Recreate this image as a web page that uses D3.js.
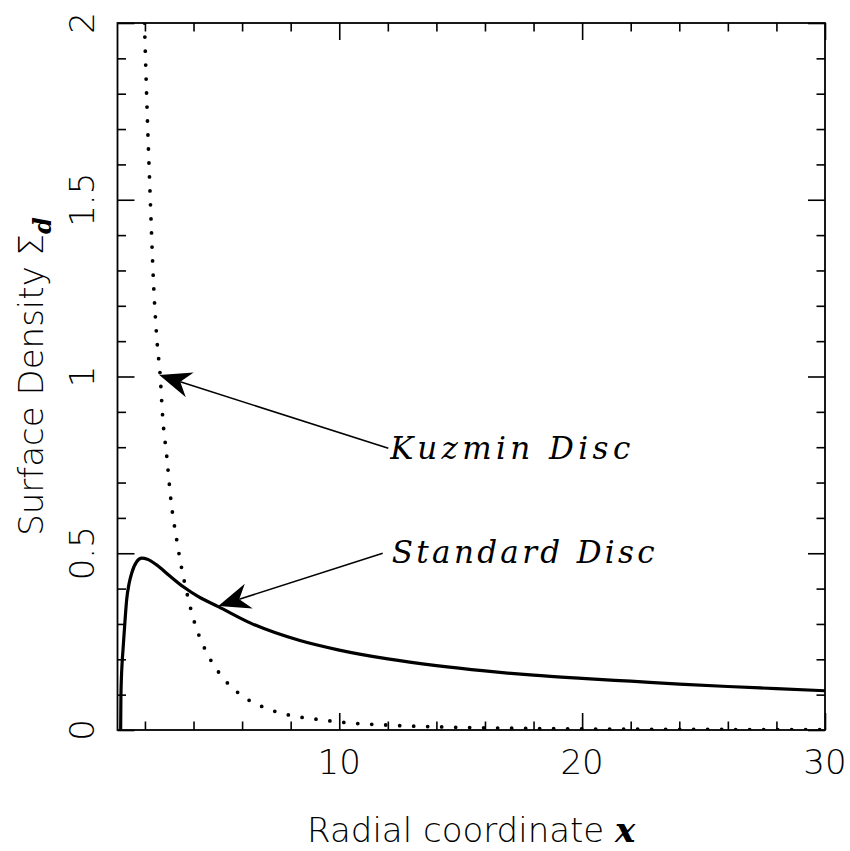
<!DOCTYPE html>
<html>
<head>
<meta charset="utf-8">
<script src="https://cdn.jsdelivr.net/npm/d3@7"></script>
<style>
  body { margin: 0; background: #fff; }
  .lbl { font-family: "DejaVu Sans", sans-serif; font-weight: 200; font-size: 34px; fill: #000; }
  .note { font-family: "DejaVu Serif", serif; font-style: italic; font-size: 31px; fill: #000; }
  .it { font-family: "DejaVu Serif", serif; font-style: italic; font-weight: bold; }
</style>
</head>
<body>
<script>
// axes
const xDomain = [0.87, 30];
const yDomain = [0, 2];
const xMajorTicks = [10, 20, 30];
const xMinorTicks = [2, 4, 6, 8, 12, 14, 16, 18, 22, 24, 26, 28];
const yMajorTicks = [0, 0.5, 1, 1.5, 2];
const yMinorTicks = [0.1, 0.2, 0.3, 0.4, 0.6, 0.7, 0.8, 0.9, 1.1, 1.2, 1.3, 1.4, 1.6, 1.7, 1.8, 1.9];
const xTickLabels = ["10", "20", "30"];
const yTickLabels = ["0", "0.5", "1", "1.5", "2"];

// standard disc (solid)
const standardX = [1.0, 1.01, 1.03, 1.06, 1.1, 1.17, 1.25, 1.35, 1.46, 1.66, 1.87, 2.1, 2.48, 3.0, 3.58, 4.2, 5.02, 6.33, 8.38, 10, 12, 14, 16, 18, 20, 22, 24, 26, 28, 30];
const standardY = [0, 0.09, 0.145, 0.19, 0.23, 0.30, 0.37, 0.415, 0.445, 0.476, 0.486, 0.483, 0.467, 0.437, 0.405, 0.377, 0.349, 0.303, 0.253, 0.226, 0.201, 0.182, 0.167, 0.155, 0.146, 0.138, 0.130, 0.123, 0.117, 0.111];

// kuzmin disc (dotted)
const kuzminX = [1.98, 2.1, 2.21, 2.35, 2.51, 2.62, 2.73, 2.9, 3.07, 3.31, 3.51, 3.72, 4.06, 4.47, 5.05, 5.84, 6.83, 7.94, 9.0, 10.24, 11.95, 14, 17, 20, 25, 30];
const kuzminY = [2.0, 1.73, 1.52, 1.27, 1.089, 1.01, 0.886, 0.773, 0.65, 0.537, 0.458, 0.39, 0.30, 0.229, 0.162, 0.105, 0.066, 0.042, 0.031, 0.021, 0.014, 0.009, 0.005, 0.003, 0.0015, 0.001];

// annotations: [text, textX, textY, tailX, tailY, tipX, tipY, textWidth]
const notes = [
  ["Kuzmin Disc", 12.1, 0.768, 12.02, 0.797, 2.59, 1.004, 240],
  ["Standard Disc", 12.16, 0.472, 11.79, 0.50, 5.02, 0.351, 263]
];

const W = 850, H = 851;
const margin = { top: 23, right: 25, bottom: 121, left: 117.5 };

const svg = d3.select("body").append("svg")
  .attr("width", W).attr("height", H);

const x = d3.scaleLinear().domain(xDomain).range([margin.left, W - margin.right]);
const y = d3.scaleLinear().domain(yDomain).range([H - margin.bottom, margin.top]);

svg.append("defs").append("clipPath").attr("id", "plot")
  .append("rect")
  .attr("x", x.range()[0]).attr("y", y.range()[1])
  .attr("width", x.range()[1] - x.range()[0])
  .attr("height", y.range()[0] - y.range()[1]);

// ticks on all four sides, pointing inwards
const addTicks = (axisFn, scale, vals, size, tr) => {
  const g = svg.append("g")
    .attr("transform", tr)
    .call(axisFn(scale).tickValues(vals).tickSize(size).tickFormat(""));
  g.select(".domain").remove();
  g.selectAll(".tick line").attr("stroke", "#000").attr("stroke-width", 1.6);
};
const [x0, x1] = x.range();
const [y0, y1] = y.range();
addTicks(d3.axisTop, x, xMajorTicks, 17, `translate(0,${y0})`);
addTicks(d3.axisTop, x, xMinorTicks, 8.5, `translate(0,${y0})`);
addTicks(d3.axisBottom, x, xMajorTicks, 17, `translate(0,${y1})`);
addTicks(d3.axisBottom, x, xMinorTicks, 8.5, `translate(0,${y1})`);
addTicks(d3.axisRight, y, yMajorTicks, 17, `translate(${x0},0)`);
addTicks(d3.axisRight, y, yMinorTicks, 8.5, `translate(${x0},0)`);
addTicks(d3.axisLeft, y, yMajorTicks, 17, `translate(${x1},0)`);
addTicks(d3.axisLeft, y, yMinorTicks, 8.5, `translate(${x1},0)`);

svg.append("rect")
  .attr("x", x0).attr("y", y1)
  .attr("width", x1 - x0).attr("height", y0 - y1)
  .attr("fill", "none").attr("stroke", "#000").attr("stroke-width", 1.8);

// tick labels
svg.append("g").selectAll("text").data(xMajorTicks).join("text")
  .attr("class", "lbl")
  .attr("x", d => x(d)).attr("y", y0 + 44)
  .attr("text-anchor", "middle")
  .text((d, i) => xTickLabels[i]);

svg.append("g").selectAll("text").data(yMajorTicks).join("text")
  .attr("class", "lbl")
  .attr("text-anchor", "middle")
  .attr("transform", d => `translate(${x0 - 24},${y(d)}) rotate(-90)`)
  .text((d, i) => yTickLabels[i]);

// axis titles
const xt = svg.append("text").attr("class", "lbl")
  .attr("x", (x0 + x1) / 2).attr("y", y0 + 112)
  .attr("text-anchor", "middle");
xt.append("tspan").text("Radial coordinate ");
xt.append("tspan").attr("class", "it").text("x");

const yt = svg.append("text").attr("class", "lbl")
  .attr("text-anchor", "middle")
  .attr("transform", `translate(${x0 - 75},${(y0 + y1) / 2}) rotate(-90)`);
yt.append("tspan").text("Surface Density Σ");
yt.append("tspan").attr("class", "it").attr("font-size", 24).attr("dy", 8).text("d");

// curves
const line = d3.line().x(d => x(d[0])).y(d => y(d[1])).curve(d3.curveMonotoneX);
const plot = svg.append("g").attr("clip-path", "url(#plot)");

plot.append("path")
  .datum(standardX.map((v, i) => [v, standardY[i]]))
  .attr("d", line)
  .attr("fill", "none").attr("stroke", "#000").attr("stroke-width", 3.2);

plot.append("path")
  .datum(kuzminX.map((v, i) => [v, kuzminY[i]]))
  .attr("d", line)
  .attr("fill", "none").attr("stroke", "#000").attr("stroke-width", 3.8)
  .attr("stroke-linecap", "round").attr("stroke-dasharray", "0 14");

// arrows + labels
notes.forEach(([txt, tx, ty, ax, ay, bx, by, tw]) => {
  const sx = x(ax), sy = y(ay), ex = x(bx), ey = y(by);
  const len = Math.hypot(sx - ex, sy - ey);
  const ux = (sx - ex) / len, uy = (sy - ey) / len;
  const nx = -uy, ny = ux;
  const L = 32, hw = 13, notch = 22;
  svg.append("line")
    .attr("x1", sx).attr("y1", sy)
    .attr("x2", ex + ux * notch).attr("y2", ey + uy * notch)
    .attr("stroke", "#000").attr("stroke-width", 1.6);
  const pts = [
    [ex, ey],
    [ex + ux * L + nx * hw, ey + uy * L + ny * hw],
    [ex + ux * notch, ey + uy * notch],
    [ex + ux * L - nx * hw, ey + uy * L - ny * hw]
  ];
  svg.append("polygon")
    .attr("points", pts.map(p => p.join(",")).join(" "))
    .attr("fill", "#000");
  svg.append("text").attr("class", "note")
    .attr("x", x(tx)).attr("y", y(ty))
    .attr("textLength", tw).attr("lengthAdjust", "spacing")
    .text(txt);
});
</script>
</body>
</html>
